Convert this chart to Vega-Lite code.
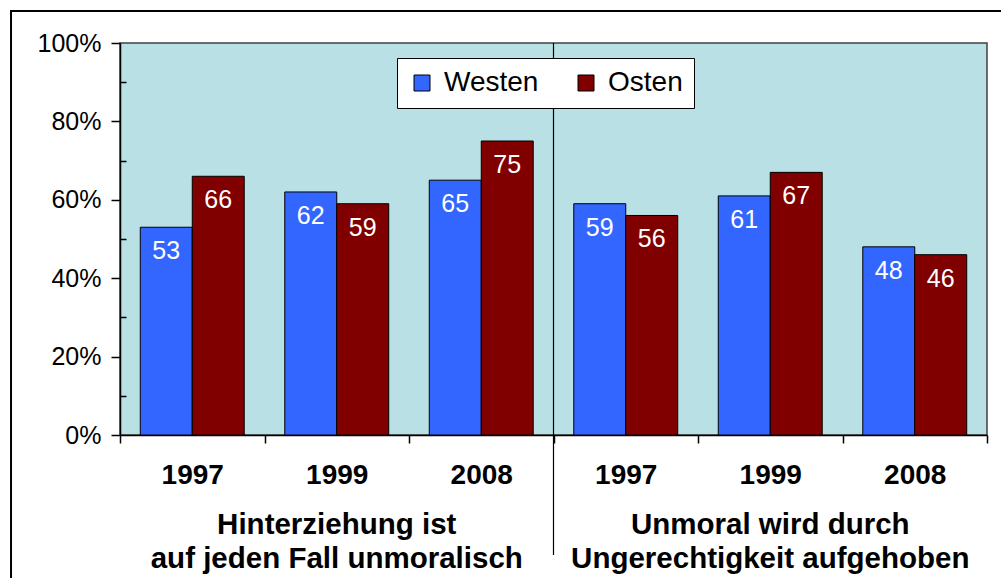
{
  "$schema": "https://vega.github.io/schema/vega-lite/v6.json",
  "width": 867,
  "height": 392,
  "autosize": {"type": "none"},
  "padding": {"left": 120, "top": 43, "right": 14, "bottom": 143},
  "background": "white",
  "config": {
    "font": "Liberation Sans",
    "view": {"fill": "#B9E0E4", "stroke": "#404040", "strokeWidth": 1.5}
  },
  "datasets": {
    "bars": [
      {"key": "H1997", "series": "Westen", "pct": 53},
      {"key": "H1997", "series": "Osten", "pct": 66},
      {"key": "H1999", "series": "Westen", "pct": 62},
      {"key": "H1999", "series": "Osten", "pct": 59},
      {"key": "H2008", "series": "Westen", "pct": 65},
      {"key": "H2008", "series": "Osten", "pct": 75},
      {"key": "U1997", "series": "Westen", "pct": 59},
      {"key": "U1997", "series": "Osten", "pct": 56},
      {"key": "U1999", "series": "Westen", "pct": 61},
      {"key": "U1999", "series": "Osten", "pct": 67},
      {"key": "U2008", "series": "Westen", "pct": 48},
      {"key": "U2008", "series": "Osten", "pct": 46}
    ],
    "groups": [
      {"group": "U"}
    ],
    "frame": [
      {"name": "frame"}
    ]
  },
  "layer": [
    {
      "data": {"name": "bars"},
      "encoding": {
        "x": {
          "field": "key",
          "type": "nominal",
          "sort": null,
          "scale": {"domain": ["H1997", "H1999", "H2008", "U1997", "U1999", "U2008"], "paddingInner": 0, "paddingOuter": 0},
          "axis": {
            "title": null,
            "labelExpr": "isValid(datum.value) ? substring(datum.value, 1) : ''",
            "labelFont": "Liberation Sans",
            "labelFontWeight": "bold",
            "labelFontSize": 28,
            "labelColor": "black",
            "labelPadding": 18,
            "labelAngle": 0,
            "labelOverlap": false,
            "tickBand": "extent",
            "tickSize": 8,
            "tickColor": "black",
            "tickWidth": 1.5,
            "domainColor": "black",
            "domainWidth": 1.5,
            "grid": false
          }
        },
        "xOffset": {
          "field": "series",
          "type": "nominal",
          "sort": ["Westen", "Osten"],
          "scale": {"domain": ["Westen", "Osten"], "paddingInner": 0, "paddingOuter": 0.39}
        },
        "y": {
          "field": "pct",
          "type": "quantitative",
          "scale": {"domain": [0, 100], "nice": false, "zero": true},
          "axis": {
            "title": null,
            "values": [0, 20, 40, 60, 80, 100],
            "labelExpr": "datum.value + '%'",
            "labelFontSize": 25,
            "labelColor": "black",
            "labelPadding": 10,
            "tickSize": 9,
            "tickColor": "black",
            "tickWidth": 1.5,
            "domainColor": "black",
            "domainWidth": 1.5,
            "grid": false
          }
        }
      },
      "layer": [
        {
          "mark": {"type": "bar", "stroke": "black", "strokeWidth": 1},
          "encoding": {
            "color": {
              "field": "series",
              "type": "nominal",
              "scale": {"domain": ["Westen", "Osten"], "range": ["#3366FF", "#800000"]},
              "legend": {
                "title": null,
                "orient": "none",
                "legendX": 277,
                "legendY": 15,
                "direction": "horizontal",
                "fillColor": "white",
                "strokeColor": "black",
                "padding": 11,
                "symbolType": "square",
                "symbolSize": 256,
                "symbolStrokeColor": "black",
                "symbolStrokeWidth": 1,
                "symbolOpacity": 1,
                "labelFontSize": 28,
                "labelColor": "black",
                "labelOffset": 8,
                "columnPadding": 33,
                "labelLimit": 0
              }
            }
          }
        },
        {
          "mark": {"type": "text", "color": "white", "fontSize": 25, "baseline": "middle", "dy": 24},
          "encoding": {
            "text": {"field": "pct", "type": "quantitative"}
          }
        }
      ]
    },
    {
      "data": {"name": "groups"},
      "mark": {"type": "rule", "color": "black", "strokeWidth": 1.2},
      "encoding": {
        "x": {
          "field": "group",
          "type": "nominal",
          "bandPosition": 0,
          "scale": {"domain": ["H", "U"], "paddingInner": 0, "paddingOuter": 0},
          "axis": {
            "orient": "bottom",
            "title": null,
            "offset": 75,
            "domain": false,
            "ticks": false,
            "labelPadding": 0,
            "labelAngle": 0,
            "labelExpr": "datum.value == 'H' ? ['Hinterziehung ist', 'auf jeden Fall unmoralisch'] : ['Unmoral wird durch', 'Ungerechtigkeit aufgehoben']",
            "labelFontWeight": "bold",
            "labelFontSize": 29.5,
            "labelColor": "black",
            "labelLineHeight": 34,
            "labelLimit": 0,
            "labelOverlap": false,
            "grid": false
          }
        },
        "y": {
          "datum": 100,
          "type": "quantitative",
          "scale": {"domain": [0, 100], "nice": false},
          "axis": {
            "orient": "left",
            "title": null,
            "values": [10, 30, 50, 70, 90],
            "labels": false,
            "domain": false,
            "tickSize": -6,
            "tickColor": "black",
            "tickWidth": 1.5,
            "grid": false
          }
        },
        "y2": {"datum": -30.6}
      }
    },
    {
      "data": {"name": "frame"},
      "mark": {"type": "rect", "fill": null, "filled": false, "stroke": "black", "strokeWidth": 2},
      "encoding": {
        "x": {"datum": -12.57, "type": "quantitative", "scale": {"domain": [0, 100], "nice": false, "zero": false}, "axis": null},
        "x2": {"datum": 150},
        "y": {"datum": 108.16, "type": "quantitative", "scale": {"domain": [0, 100], "nice": false, "zero": false}, "axis": null},
        "y2": {"datum": -60}
      }
    }
  ],
  "resolve": {
    "scale": {"x": "independent", "y": "independent"},
    "axis": {"x": "independent", "y": "independent"}
  }
}
